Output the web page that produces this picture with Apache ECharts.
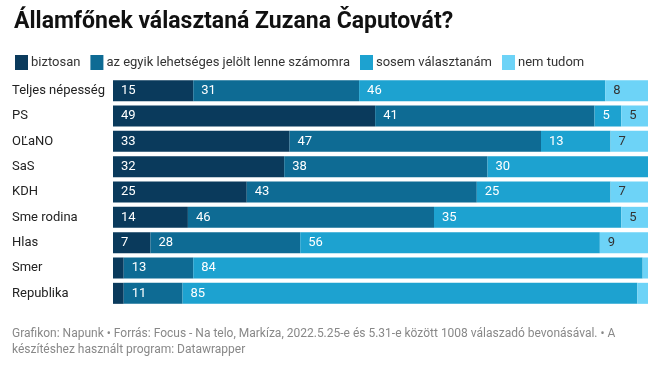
<!DOCTYPE html>
<html><head><meta charset="utf-8">
<script src="https://cdn.jsdelivr.net/npm/echarts@6/dist/echarts.min.js"></script>
<style>
html,body{margin:0;padding:0;background:#fff;}
#c{width:660px;height:365px;}
</style></head>
<body><div id="c"></div>
<script>
const categories = ["Teljes népesség","PS","OĽaNO","SaS","KDH","Sme rodina","Hlas","Smer","Republika"];
const seriesNames = ["biztosan","az egyik lehetséges jelölt lenne számomra","sosem választanám","nem tudom"];
const biztosan = [15,49,33,32,25,14,7,2,2];
const egyik = [31,41,47,38,43,46,28,13,11];
const sosem = [46,5,13,30,25,35,56,84,85];
const nemTudom = [8,5,7,0,7,5,9,1,2];
const colors = ["#0a3a5c","#0e6b94","#1da2d0","#6dd3f7"];
const labelColors = ["#fff","#fff","#fff","#333"];

const chart = echarts.init(document.getElementById('c'), null, {renderer:'canvas'});
const font = "Roboto, 'Noto Sans', sans-serif";
const data = [biztosan, egyik, sosem, nemTudom];
const series = data.map((d,i)=>({
  name: seriesNames[i],
  type: 'bar',
  stack: 'all',
  barCategoryGap: '17%',
  data: d,
  itemStyle:{color:colors[i]},
  label:{
    show:true, position:'insideLeft', distance:8,
    color: labelColors[i], fontSize:13, fontFamily:font,
    formatter: p => p.value >= 4 ? String(p.value) : ''
  },
  emphasis:{disabled:true},
  animation:false
}));
chart.setOption({
  animation:false,
  title:{
    text:"Államfőnek választaná Zuzana Čaputovát?",
    left:9, top:6,
    textStyle:{fontSize:23, fontWeight:'bold', fontFamily:font, color:'#111'}
  },
  legend:{
    left:10, top:50, itemWidth:13, itemHeight:15, itemGap:10,
    icon:'rect',
    textStyle:{fontSize:13, fontFamily:font, color:'#333', padding:[0,0,0,-2]},
    data: seriesNames
  },
  grid:{left:113, right:12, top:78, bottom:59, containLabel:false},
  xAxis:{type:'value', min:0, max:100, show:false},
  yAxis:{
    type:'category', data:categories, inverse:true,
    axisLine:{show:false}, axisTick:{show:false},
    axisLabel:{align:'left', margin:101, fontSize:13, fontFamily:font, color:'#222'}
  },
  graphic:[{
    type:'text', left:12, top:326,
    style:{
      text:"Grafikon: Napunk • Forrás: Focus - Na telo, Markíza, 2022.5.25-e és 5.31-e között 1008 válaszadó bevonásával. • A\nkészítéshez használt program: Datawrapper",
      fontSize:12, fontFamily:font, fill:'#888', lineHeight:16
    }
  }],
  series: series
});
</script></body></html>
